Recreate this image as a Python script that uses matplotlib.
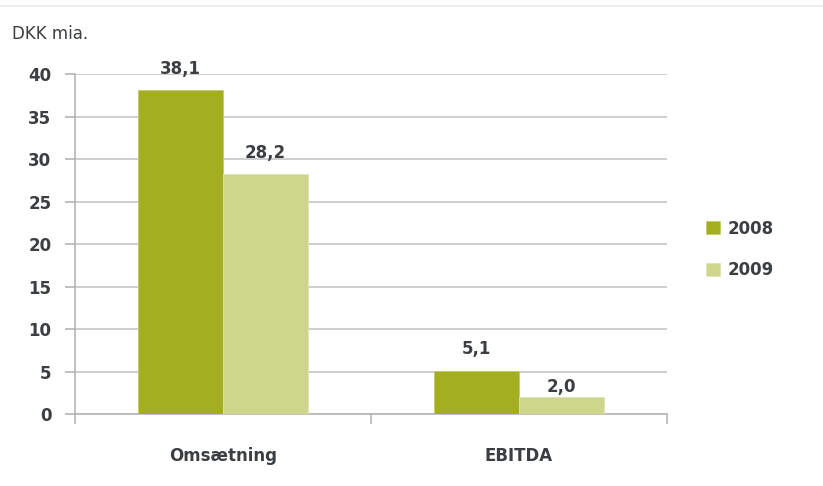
import numpy as np
import matplotlib.pyplot as plt
from matplotlib.lines import Line2D

# data
categories = ['Omsætning', 'EBITDA']
years = ['2008', '2009']
values_2008 = [38.1, 5.1]
values_2009 = [28.2, 2.0]
labels_2008 = ['38,1', '5,1']
labels_2009 = ['28,2', '2,0']

C_2008 = '#a3ae21'
C_2009 = '#cdd68b'
TXT = '#3b3f42'
GRID = '#c6c6c6'

plt.rcParams['font.family'] = ['DejaVu Sans']

fig = plt.figure(figsize=(8.23, 4.86), dpi=100, facecolor='w')
ax = fig.add_axes([0.0911, 0.148, 0.7193, 0.6996])

x = np.arange(len(categories))
w = 0.287
b1 = ax.bar(x - w/2, values_2008, w, color=C_2008, edgecolor='#c4cc6a', lw=0.6,
            label=years[0], zorder=3)
b2 = ax.bar(x + w/2, values_2009, w, color=C_2009, edgecolor='#dde3b0', lw=0.6,
            label=years[1], zorder=3)

# label offsets in points (the small EBITDA 2009 label sits right on its bar)
for bars, labs, offs in ((b1, labels_2008, [9, 9]), (b2, labels_2009, [9, 1])):
    for bar, lab, off in zip(bars, labs, offs):
        ax.annotate(lab, (bar.get_x() + bar.get_width()/2, bar.get_height()),
                    xytext=(0, off), textcoords='offset points', ha='center',
                    va='bottom', fontsize=12, fontweight='bold', color=TXT)

ax.set_xlim(-0.5, 1.5)
ax.set_ylim(0, 40)
ax.set_yticks(np.arange(0, 41, 5))
ax.yaxis.grid(True, color=GRID, lw=1.2, zorder=0)
ax.set_axisbelow(True)

ax.set_xticks(x)
ax.set_xticklabels(categories)
ax.set_xticks([-0.5, 0.5, 1.5], minor=True)
ax.tick_params(axis='x', which='major', length=0, pad=24, labelsize=12,
               labelcolor=TXT)
ax.tick_params(axis='x', which='minor', length=7, width=1.2, color='#b5b5b5',
               direction='out')
ax.tick_params(axis='y', length=7, width=1.2, color='#b5b5b5', pad=10,
               labelsize=12, labelcolor=TXT)
for t in ax.get_xticklabels() + ax.get_yticklabels():
    t.set_fontweight('bold')

for s in ['top', 'right']:
    ax.spines[s].set_visible(False)
ax.spines['left'].set_color('#b5b5b5')
ax.spines['bottom'].set_color('#b5b5b5')
ax.spines['left'].set_linewidth(1.2)
ax.spines['bottom'].set_linewidth(1.2)

fig.text(0.015, 0.93, 'DKK mia.', fontsize=12, color=TXT, va='center')

fig.legend(loc='center left', bbox_to_anchor=(0.84, 0.487), frameon=False,
           handlelength=0.8, handleheight=0.8, labelspacing=1.4,
           handletextpad=0.5, labelcolor=TXT,
           prop={'weight': 'bold', 'size': 12})

# thin rule at the top edge
fig.add_artist(Line2D([0, 1], [0.987, 0.987], color='#ebebeb', lw=1.2))

fig.savefig('out.png', dpi=100)
